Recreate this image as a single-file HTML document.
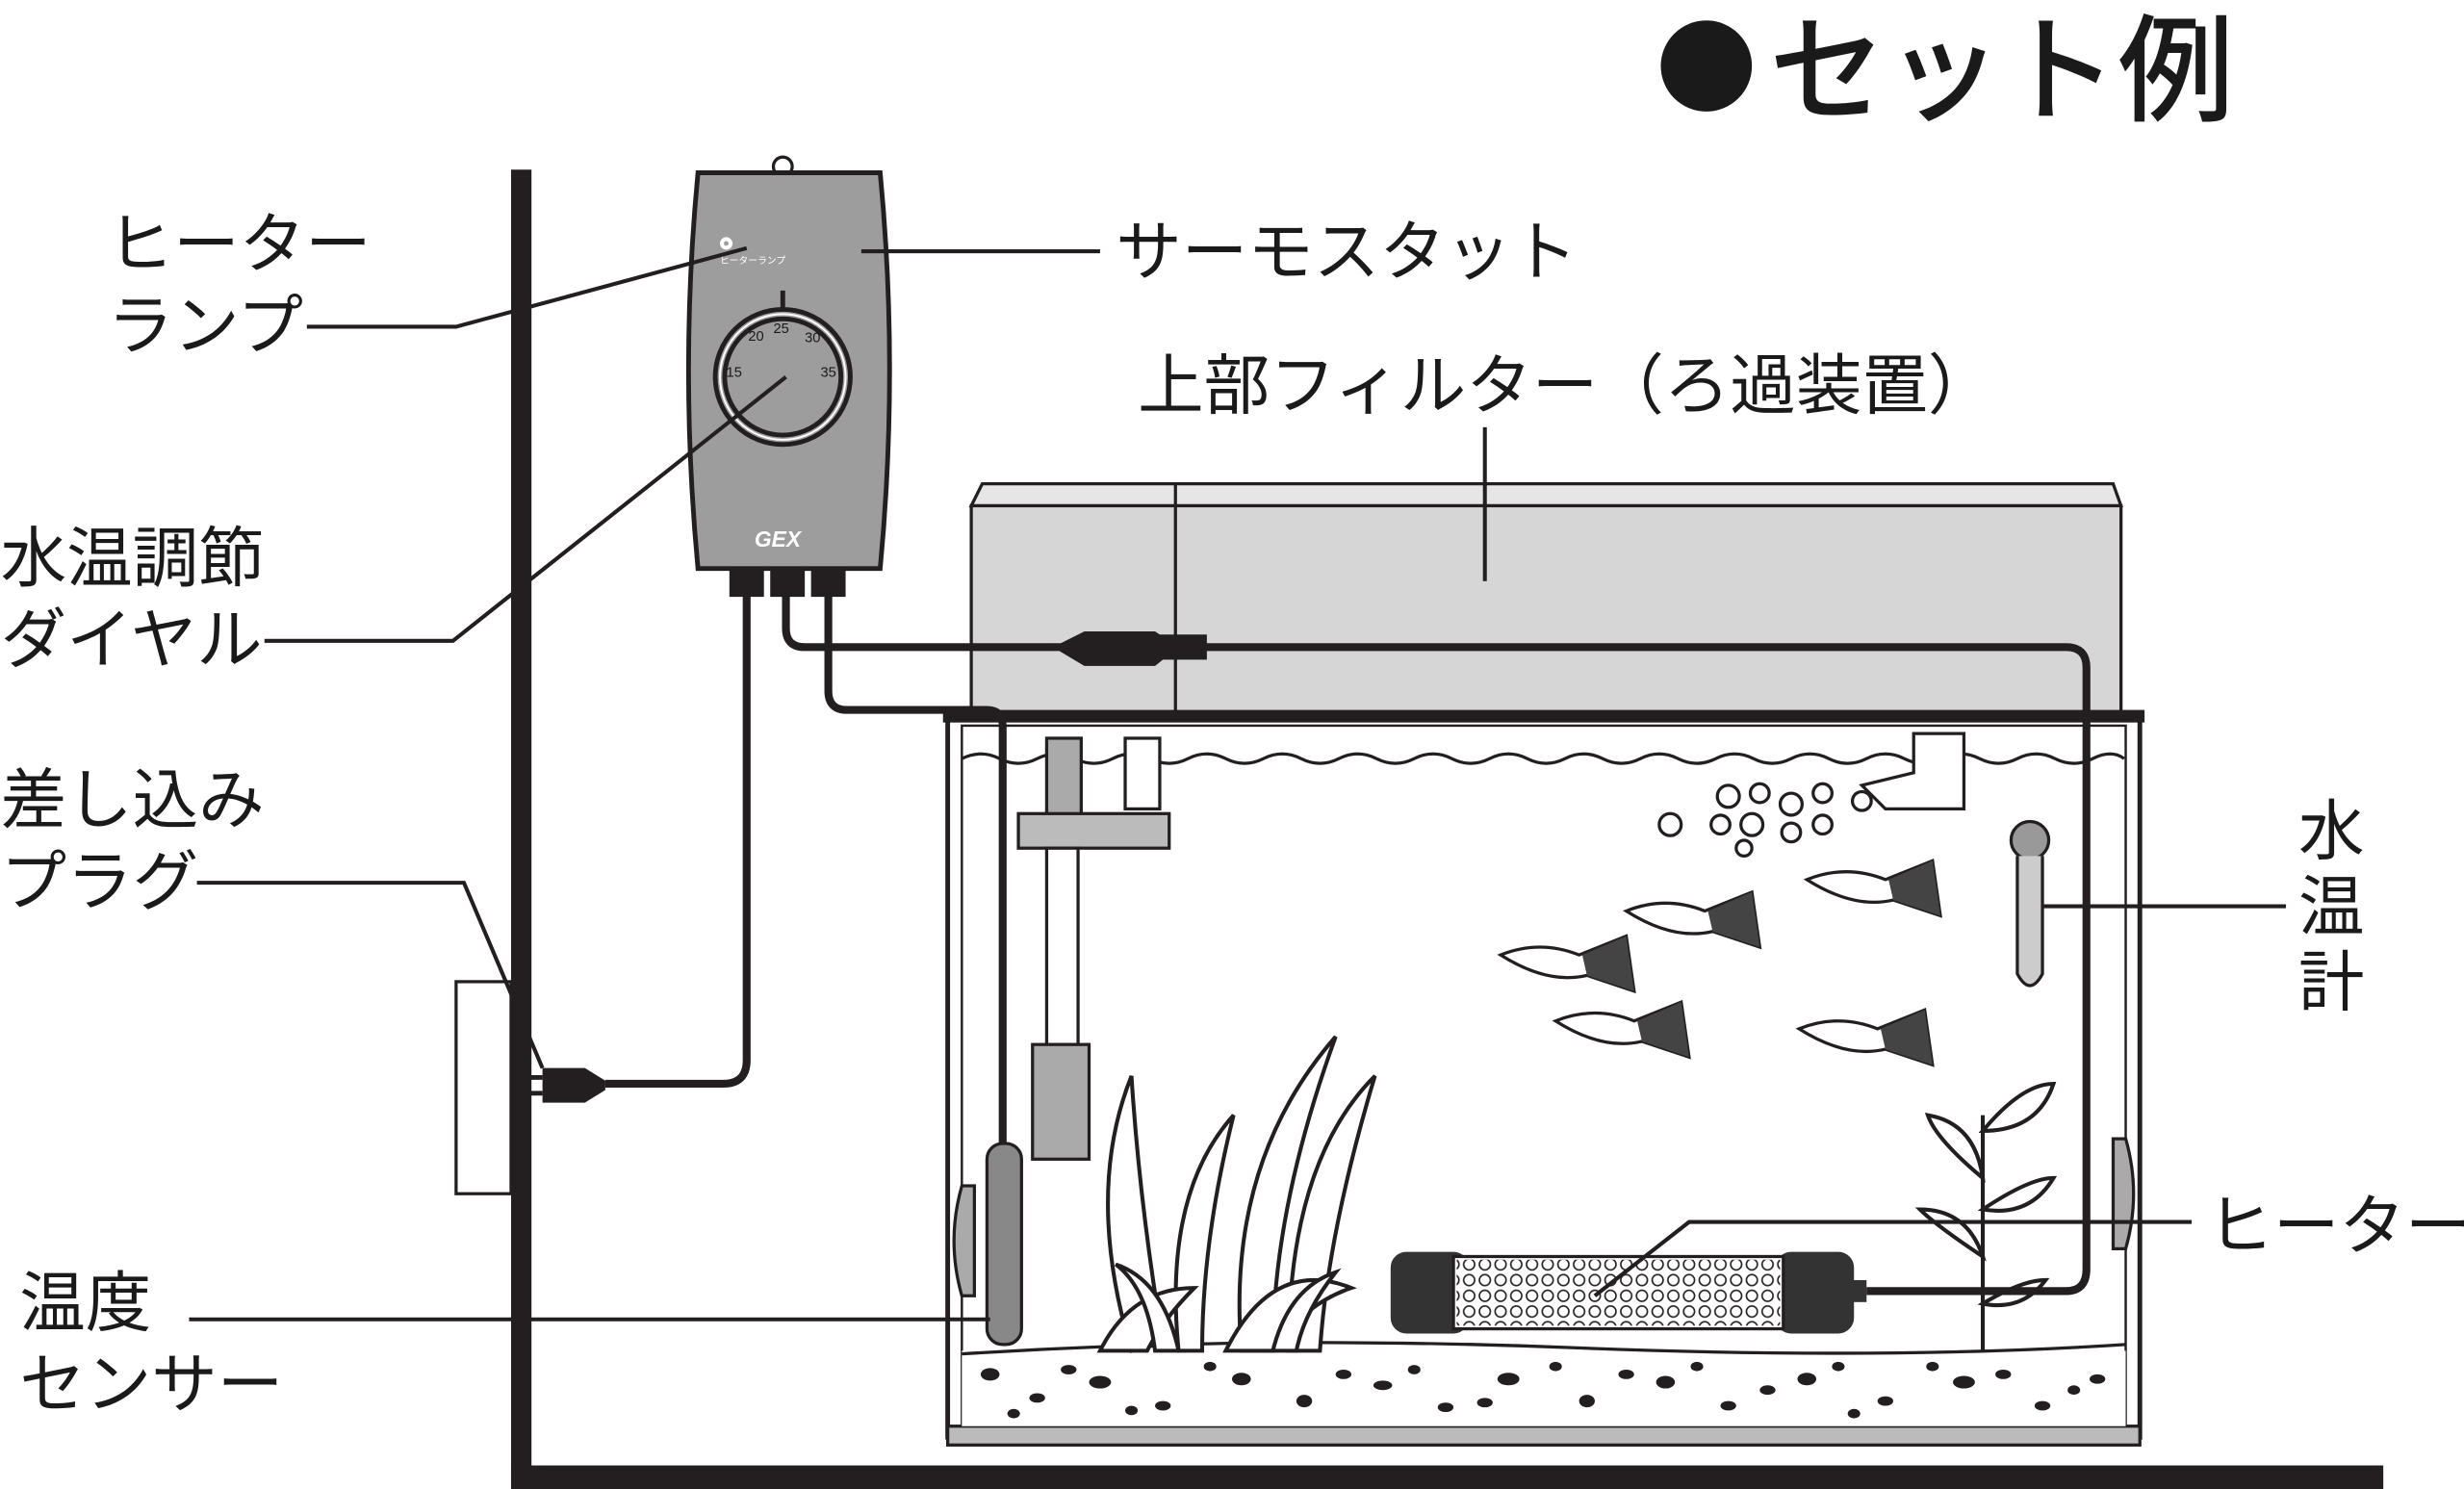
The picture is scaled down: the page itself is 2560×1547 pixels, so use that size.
<!DOCTYPE html>
<html><head><meta charset="utf-8"><style>
html,body{margin:0;padding:0;background:#fff;}
svg{display:block;}
text{font-family:"Liberation Sans","Noto Sans CJK JP",sans-serif;fill:#1a1a1a;}
</style></head><body>
<svg width="2560" height="1547" viewBox="0 0 1568 948" xmlns="http://www.w3.org/2000/svg">
<!-- title -->
<circle cx="1086" cy="42" r="29" fill="#1a1a1a"/>
<text x="1126" y="71" font-size="74" font-weight="500">セット例</text>

<!-- labels -->
<g font-size="42">
<text x="68" y="170">ヒーター</text>
<text x="68" y="222">ランプ</text>
<text x="0" y="370">水温調節</text>
<text x="0" y="422">ダイヤル</text>
<text x="0" y="524">差し込み</text>
<text x="0" y="576">プラグ</text>
<text x="12" y="844">温度</text>
<text x="12" y="896">センサー</text>
<text x="710" y="175">サーモスタット</text>
<text x="724" y="260">上部フィルター（ろ過装置）</text>
<text x="1463" y="544">水</text>
<text x="1463" y="592">温</text>
<text x="1463" y="640">計</text>
<text x="1405" y="795">ヒーター</text>
</g>

<!-- wall & floor -->
<rect x="325" y="108" width="13" height="840" fill="#231f20"/>
<rect x="325" y="933" width="1192" height="15" fill="#231f20"/>

<!-- outlet -->
<rect x="290" y="625" width="35" height="135" fill="#fff" stroke="#231f20" stroke-width="2"/>

<!-- filter -->
<path d="M618 322 L625 308 L1345 308 L1350 322 Z" fill="#e6e6e6" stroke="#231f20" stroke-width="2"/>
<rect x="618" y="322" width="732" height="133" fill="#d6d6d6" stroke="#231f20" stroke-width="2"/>
<line x1="748" y1="308" x2="748" y2="455" stroke="#231f20" stroke-width="2"/>

<!-- tank -->
<rect x="603" y="455" width="759" height="460" fill="#fff" stroke="#231f20" stroke-width="3"/>
<rect x="612" y="462" width="741" height="446" fill="none" stroke="#231f20" stroke-width="1.5"/>
<rect x="600" y="452" width="765" height="8" fill="#231f20"/>
<path d="M612 483 q12 -6 24 0 t24 0 t24 0 t24 0 t24 0 t24 0 t24 0 t24 0 t24 0 t24 0 t24 0 t24 0 t24 0 t24 0 t24 0 t24 0 t24 0 t24 0 t24 0 t24 0 t24 0 t24 0 t24 0 t24 0 t24 0 t24 0 t24 0 t24 0 t24 0 t24 0 t20 0" fill="none" stroke="#231f20" stroke-width="2"/>
<rect x="603" y="908" width="759" height="12" fill="#bbb" stroke="#231f20" stroke-width="2"/>
<!-- gravel -->
<rect x="612" y="860" width="741" height="48" fill="#fff"/>
<path d="M612 862 Q800 850 1000 858 T1353 856" fill="none" stroke="#231f20" stroke-width="2"/>
<g fill="#231f20">
<ellipse cx="630" cy="875" rx="6" ry="4"/><ellipse cx="660" cy="890" rx="5" ry="3"/><ellipse cx="700" cy="880" rx="7" ry="4"/><ellipse cx="740" cy="895" rx="5" ry="3"/><ellipse cx="790" cy="878" rx="6" ry="4"/><ellipse cx="830" cy="892" rx="5" ry="4"/><ellipse cx="880" cy="882" rx="6" ry="3"/><ellipse cx="920" cy="896" rx="5" ry="3"/><ellipse cx="960" cy="878" rx="7" ry="4"/><ellipse cx="1010" cy="892" rx="5" ry="4"/><ellipse cx="1060" cy="880" rx="6" ry="4"/><ellipse cx="1100" cy="895" rx="5" ry="3"/><ellipse cx="1150" cy="878" rx="6" ry="4"/><ellipse cx="1200" cy="892" rx="5" ry="3"/><ellipse cx="1250" cy="880" rx="7" ry="4"/><ellipse cx="1300" cy="895" rx="5" ry="3"/><ellipse cx="1335" cy="878" rx="5" ry="3"/>
<ellipse cx="645" cy="900" rx="4" ry="3"/><ellipse cx="770" cy="870" rx="4" ry="3"/><ellipse cx="990" cy="870" rx="4" ry="3"/><ellipse cx="1180" cy="900" rx="4" ry="3"/><ellipse cx="1230" cy="870" rx="4" ry="3"/>
<ellipse cx="680" cy="872" rx="5" ry="3"/><ellipse cx="720" cy="898" rx="4" ry="3"/><ellipse cx="855" cy="875" rx="5" ry="3"/><ellipse cx="900" cy="872" rx="4" ry="3"/><ellipse cx="945" cy="893" rx="5" ry="3"/><ellipse cx="1035" cy="875" rx="5" ry="3"/><ellipse cx="1080" cy="870" rx="4" ry="3"/><ellipse cx="1125" cy="885" rx="5" ry="3"/><ellipse cx="1170" cy="870" rx="4" ry="3"/><ellipse cx="1275" cy="875" rx="5" ry="3"/><ellipse cx="1320" cy="885" rx="4" ry="3"/>
</g>

<!-- pump -->
<rect x="666" y="470" width="22" height="50" fill="#aaa" stroke="#231f20" stroke-width="2"/>
<rect x="716" y="470" width="22" height="45" fill="#fff" stroke="#231f20" stroke-width="2"/>
<rect x="648" y="518" width="96" height="22" fill="#bbb" stroke="#231f20" stroke-width="2"/>
<rect x="666" y="540" width="20" height="125" fill="#fff" stroke="#231f20" stroke-width="2"/>
<rect x="657" y="665" width="36" height="73" fill="#aaa" stroke="#231f20" stroke-width="2"/>
<!-- outflow -->
<path d="M1218 467 L1250 467 L1250 515 L1200 515 L1185 500 L1218 492 Z" fill="#fff" stroke="#231f20" stroke-width="2"/>
<g fill="none" stroke="#231f20" stroke-width="2">
<circle cx="1063" cy="525" r="7"/><circle cx="1100" cy="507" r="7"/><circle cx="1120" cy="505" r="6"/><circle cx="1140" cy="512" r="7"/><circle cx="1160" cy="505" r="6"/><circle cx="1185" cy="510" r="6"/><circle cx="1095" cy="525" r="6"/><circle cx="1115" cy="525" r="7"/><circle cx="1140" cy="530" r="6"/><circle cx="1160" cy="525" r="6"/><circle cx="1110" cy="540" r="5"/>
</g>
<!-- fish -->
<g fill="#fff" stroke="#231f20" stroke-width="2">
<path d="M955 608 q25 -10 50 0 l30 -12 l5 35 l-30 -10 q-25 6 -55 -13z"/>
<path d="M990 650 q25 -10 50 0 l30 -12 l5 35 l-30 -10 q-25 6 -55 -13z"/>
<path d="M1035 580 q25 -10 50 0 l30 -12 l5 35 l-30 -10 q-25 6 -55 -13z"/>
<path d="M1150 560 q25 -10 50 0 l30 -12 l5 35 l-30 -10 q-25 6 -55 -13z"/>
<path d="M1145 655 q25 -10 50 0 l30 -12 l5 35 l-30 -10 q-25 6 -55 -13z"/>
</g>
<g fill="#444">
<path d="M1007 608 l28 -12 l5 35 l-30 -10z"/>
<path d="M1042 650 l28 -12 l5 35 l-30 -10z"/>
<path d="M1087 580 l28 -12 l5 35 l-30 -10z"/>
<path d="M1202 560 l28 -12 l5 35 l-30 -10z"/>
<path d="M1197 655 l28 -12 l5 35 l-30 -10z"/>
</g>
<!-- plants -->
<g fill="#fff" stroke="#231f20" stroke-width="2.5">
<path d="M720 860 q-30 -100 0 -175 q5 80 20 170z"/>
<path d="M750 860 q-10 -100 35 -150 q-20 80 -20 150z"/>
<path d="M790 860 q-10 -120 60 -200 q-40 110 -40 200z"/>
<path d="M820 860 q0 -120 55 -175 q-30 100 -35 175z"/>
<path d="M700 860 q20 -40 60 -40 q-20 20 -30 40z"/>
<path d="M780 860 q30 -60 80 -40 q-30 10 -50 40z"/>
<path d="M735 860 q-5 -40 -25 -55 q30 10 40 55z"/>
<path d="M810 860 q10 -40 40 -50 q-20 25 -25 50z"/>
<path d="M1262 860 l0 -150" fill="none"/>
<path d="M1262 720 q25 -30 45 -30 q-10 30 -45 30z"/>
<path d="M1262 750 q-30 -25 -35 -40 q30 5 35 40z"/>
<path d="M1262 770 q30 -20 45 -20 q-15 25 -45 20z"/>
<path d="M1262 800 q-30 -20 -40 -30 q30 0 40 30z"/>
<path d="M1262 830 q25 -15 40 -15 q-15 20 -40 15z"/>
</g>
<!-- suction cups -->
<path d="M612 755 q-10 35 0 70 l8 0 l0 -70z" fill="#aaa" stroke="#231f20" stroke-width="2"/>
<path d="M1353 725 q10 35 0 70 l-8 0 l0 -70z" fill="#aaa" stroke="#231f20" stroke-width="2"/>
<!-- sensor -->
<rect x="628" y="728" width="22" height="128" rx="10" fill="#888" stroke="#231f20" stroke-width="2"/>
<!-- thermometer -->
<circle cx="1292" cy="535" r="12" fill="#999" stroke="#231f20" stroke-width="2"/>
<path d="M1284 545 L1284 620 Q1292 635 1300 620 L1300 545" fill="#ccc" stroke="#231f20" stroke-width="2"/>
<!-- heater -->
<rect x="885" y="797" width="50" height="52" rx="10" fill="#333"/>
<rect x="1130" y="797" width="50" height="52" rx="10" fill="#333"/>
<rect x="925" y="800" width="210" height="46" fill="#fff" stroke="#231f20" stroke-width="2"/>
<pattern id="dots" width="10" height="10" patternUnits="userSpaceOnUse"><circle cx="5" cy="5" r="3.5" fill="none" stroke="#231f20" stroke-width="1"/></pattern>
<rect x="927" y="802" width="206" height="42" fill="url(#dots)"/>
<rect x="1178" y="815" width="10" height="14" fill="#333"/>

<!-- cables -->
<g fill="none" stroke="#231f20" stroke-width="5">
<path d="M475 375 L475 675 Q475 690 460 690 L385 690"/>
<path d="M500 375 L500 400 Q500 412 512 412 L690 412"/>
<path d="M765 412 L1315 412 Q1328 412 1328 425 L1328 808 Q1328 822 1315 822 L1188 822"/>
<path d="M527 375 L527 440 Q527 452 539 452 L628 452 Q638 452 638 462 L638 728"/>
</g>
<!-- connector -->
<path d="M670 412 L690 402 L735 402 L750 412 L735 424 L690 424 Z" fill="#231f20"/>
<path d="M735 404 L768 404 L768 420 L735 420" fill="#231f20"/>
<!-- plug -->
<path d="M345 680 L372 680 L385 688 L385 694 L372 702 L345 702 Z" fill="#231f20"/>
<line x1="335" y1="686" x2="345" y2="686" stroke="#231f20" stroke-width="3"/>
<line x1="335" y1="696" x2="345" y2="696" stroke="#231f20" stroke-width="3"/>

<!-- thermostat -->
<circle cx="498" cy="106" r="6" fill="none" stroke="#231f20" stroke-width="2"/>
<path d="M444 110 L560 110 Q572 235 560 362 L444 362 Q432 235 444 110 Z" fill="#9d9d9d" stroke="#231f20" stroke-width="3"/>
<rect x="464" y="362" width="22" height="18" fill="#231f20"/>
<rect x="490" y="362" width="22" height="18" fill="#231f20"/>
<rect x="516" y="362" width="22" height="18" fill="#231f20"/>
<circle cx="462" cy="155" r="4" fill="#fff"/><circle cx="462" cy="155" r="1.5" fill="#9d9d9d"/>
<text x="458" y="168" font-size="6" style="fill:#fff">ヒーターランプ</text>
<circle cx="498" cy="240" r="43" fill="none" stroke="#231f20" stroke-width="3"/>
<circle cx="498" cy="240" r="40" fill="none" stroke="#fff" stroke-width="1.2"/>
<circle cx="498" cy="240" r="37" fill="#9d9d9d" stroke="#231f20" stroke-width="3"/>
<line x1="498" y1="197" x2="498" y2="185" stroke="#231f20" stroke-width="3"/>
<g font-size="9" style="fill:#fff"><text x="462" y="240">15</text><text x="476" y="217">20</text><text x="492" y="212">25</text><text x="512" y="218">30</text><text x="522" y="240">35</text></g>
<text x="480" y="348" font-size="14" font-weight="bold" font-style="italic" style="fill:#fff">GEX</text>

<!-- leader lines -->
<g fill="none" stroke="#231f20" stroke-width="2.5">
<polyline points="195,208 290,208 475,158"/>
<polyline points="548,160 700,160"/>
<polyline points="945,272 945,370"/>
<polyline points="168,408 288,408 500,240"/>
<polyline points="125,562 295,562 345,680"/>
<polyline points="120,840 630,840"/>
<polyline points="1300,577 1455,577"/>
<polyline points="1395,778 1075,778 1015,825"/>
</g>
</svg>
</body></html>
